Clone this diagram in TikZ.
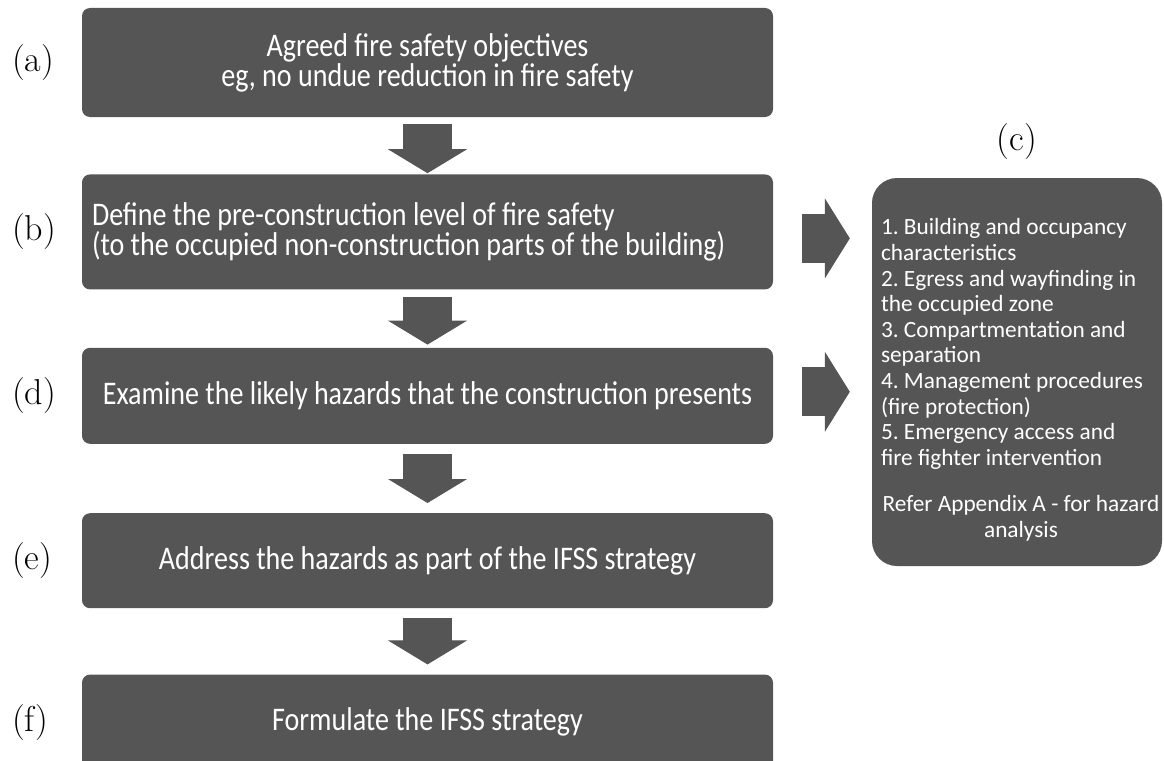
\documentclass[tikz,border=0pt]{standalone}
\usepackage{fontspec}
\newfontfamily\stepfont[FakeStretch=0.85]{Carlito}
\newfontfamily\notefont{Carlito}
\usetikzlibrary{positioning,arrows.meta}
\definecolor{boxgray}{HTML}{555555}
\tikzset{
    stepbox/.style={fill=boxgray, rounded corners=8pt, minimum width=691pt, inner sep=0pt,
        text=white, align=center, font=\stepfont\fontsize{33}{30}\selectfont},
    notebox/.style={fill=boxgray, rounded corners=25pt, minimum width=290pt, minimum height=388pt},
    notetext/.style={text=white, text width=280pt, align=flush left, inner sep=0pt,
        font=\notefont\fontsize{23.3}{25.6}\selectfont\frenchspacing},
    tag/.style={inner sep=0pt, font=\fontsize{36}{40}\selectfont},
    downarrow/.style={boxgray, line width=49pt,
        -{Triangle[length=24pt, width=79pt, line width=1pt]}},
    sidearrow/.style={boxgray, line width=49pt, shorten <=29pt, shorten >=22pt,
        -{Triangle[length=25pt, width=80pt, line width=1pt]}}
}
\begin{document}
\begin{tikzpicture}[x=1pt, y=1pt]
    \useasboundingbox (0,0) rectangle (1164,-760);
    \clip (0,0) rectangle (1164,-760);
    % Main steps
    \node[stepbox, minimum height=109pt] (a) at (427.5,-62.5)
        {Agreed fire safety objectives\\eg, no undue reduction in fire safety};
    \node[stepbox, minimum height=115pt, text width=671pt, align=flush left, below=57pt of a] (b)
        {Define the pre-construction level of fire safety\\(to the occupied non-construction parts of the building)};
    \node[stepbox, minimum height=96pt, below=58pt of b] (d)
        {Examine the likely hazards that the construction presents};
    \node[stepbox, minimum height=95pt, below=69pt of d] (e)
        {Address the hazards as part of the IFSS strategy};
    \node[stepbox, minimum height=95pt, below=66pt of e] (f)
        {Formulate the IFSS strategy};
    % Hazard list
    \node[notebox] (c) at (1017,-372) {};
    \node[notetext] (clist) at ([xshift=4pt, yshift=-8pt]c.center)
        {1. Building and occupancy\\characteristics\\2. Egress and wayfinding in\\the occupied zone\\
         3. Compartmentation and\\separation\\4. Management procedures\\(fire protection)\\
         5. Emergency access and\\fire fighter intervention\\[21pt]
         \makebox[\linewidth][c]{Refer Appendix A - for hazard}\\\makebox[\linewidth][c]{analysis}};
    % Tags
    \node[tag, anchor=west] (ta) at (12,0 |- a) {(a)};
    \node[tag, anchor=west] (tb) at (12,0 |- b) {(b)};
    \node[tag, anchor=west] (td) at (12,0 |- d) {(d)};
    \node[tag, anchor=west] (te) at (12,0 |- e) {(e)};
    \node[tag, anchor=west] (tf) at (12,0 |- f) {(f)};
    \node[tag, above=18pt of c] (tc) {(c)};
    % Arrows
    \draw[downarrow, shorten <=7pt, shorten >=1pt] (a) -- (b);
    \draw[downarrow, shorten <=7pt, shorten >=3pt] (b) -- (d);
    \draw[downarrow, shorten <=10pt, shorten >=10pt] (d) -- (e);
    \draw[downarrow, shorten <=10pt, shorten >=10pt] (e) -- (f);
    \draw[sidearrow] ([yshift=-6.5pt]b.east) -- ([yshift=-6.5pt]c.west |- b.east);
    \draw[sidearrow] ([yshift=4pt]d.east) -- ([yshift=4pt]c.west |- d.east);
\end{tikzpicture}
\end{document}
